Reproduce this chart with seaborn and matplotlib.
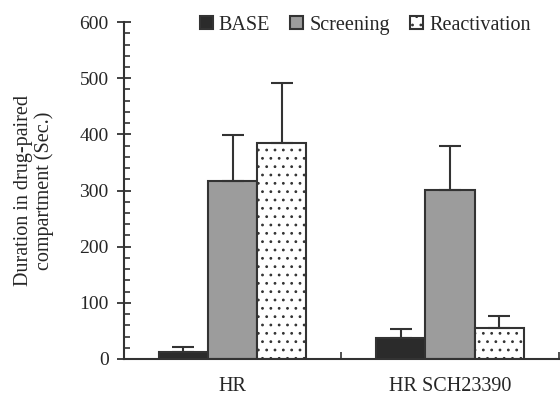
import matplotlib
matplotlib.use("Agg")
import matplotlib.pyplot as plt
import seaborn as sns
import pandas as pd
import numpy as np
from matplotlib.ticker import MultipleLocator, FixedLocator
from matplotlib.patches import Patch

groups = ["HR", "HR SCH23390"]
phases = ["BASE", "Screening", "Reactivation"]
base_vals = [13, 37]
screen_vals = [317, 301]
react_vals = [384, 55]
base_err = [8, 16]
screen_err = [81, 79]
react_err = [108, 21]

sns.set_theme(style="white")
plt.rcParams['font.family'] = ['Liberation Serif', 'DejaVu Serif']
plt.rcParams['hatch.color'] = '#555555'
plt.rcParams['hatch.linewidth'] = 0.8

rows = []
for gi, g in enumerate(groups):
    for ph, vals in zip(phases, [base_vals, screen_vals, react_vals]):
        rows.append({"group": g, "phase": ph, "value": vals[gi]})
df = pd.DataFrame(rows)

colors = {"BASE": "#2b2b2b", "Screening": "#9c9c9c", "Reactivation": "#ffffff"}
hatches = {"BASE": "", "Screening": "", "Reactivation": ".."}
edge = "#333333"

fig = plt.figure(figsize=(5.6, 4.04), dpi=100)
ax = fig.add_axes([0.2214, 0.1114, 0.776, 0.834])
sns.barplot(data=df, x="group", y="value", hue="phase", order=groups, hue_order=phases,
            palette=colors, width=0.68, errorbar=None, ax=ax, edgecolor=edge, linewidth=1.5,
            legend=False, saturation=1)

errs = {"BASE": base_err, "Screening": screen_err, "Reactivation": react_err}
vals = {"BASE": base_vals, "Screening": screen_vals, "Reactivation": react_vals}
for ph, cont in zip(phases, ax.containers):
    xs = []
    for bar in cont:
        bar.set_hatch(hatches[ph])
        xs.append(bar.get_x() + bar.get_width() / 2)
    ax.errorbar(xs, vals[ph], yerr=[np.zeros(len(xs)), errs[ph]], fmt="none",
                ecolor=edge, elinewidth=1.5, capsize=8, capthick=1.5, zorder=1)

ax.set_xlim(-0.5, 1.5)
ax.set_ylim(0, 600)
ax.set_xlabel("")
ax.set_ylabel("Duration in drug-paired\ncompartment (Sec.)", fontsize=14.5, labelpad=18,
              linespacing=1.1)
for s in ["top", "right"]:
    ax.spines[s].set_visible(False)
for s in ["left", "bottom"]:
    ax.spines[s].set_linewidth(1.5)
    ax.spines[s].set_color(edge)

ax.yaxis.set_major_locator(MultipleLocator(100))
ax.yaxis.set_minor_locator(MultipleLocator(20))
ax.tick_params(axis="y", which="major", direction="inout", length=10, width=1.3,
               color=edge, labelsize=14, left=True, pad=6)
ax.tick_params(axis="y", which="minor", direction="in", length=4, width=1.2, color=edge, left=True)
ax.xaxis.set_minor_locator(FixedLocator([0.5, 1.5]))
ax.tick_params(axis="x", which="major", length=0, labelsize=14.5, pad=13)
ax.tick_params(axis="x", which="minor", direction="in", length=5, width=1.2, color=edge, bottom=True)

handles = [Patch(facecolor=colors[p], edgecolor=edge, hatch=hatches[p], linewidth=1.5) for p in phases]
fig.legend(handles, phases, loc="center", bbox_to_anchor=(0.652, 0.938), ncol=3, frameon=False,
           fontsize=14.5, handlelength=0.65, handleheight=0.65, handletextpad=0.3, columnspacing=1.0)

fig.savefig("out.png", dpi=100)
